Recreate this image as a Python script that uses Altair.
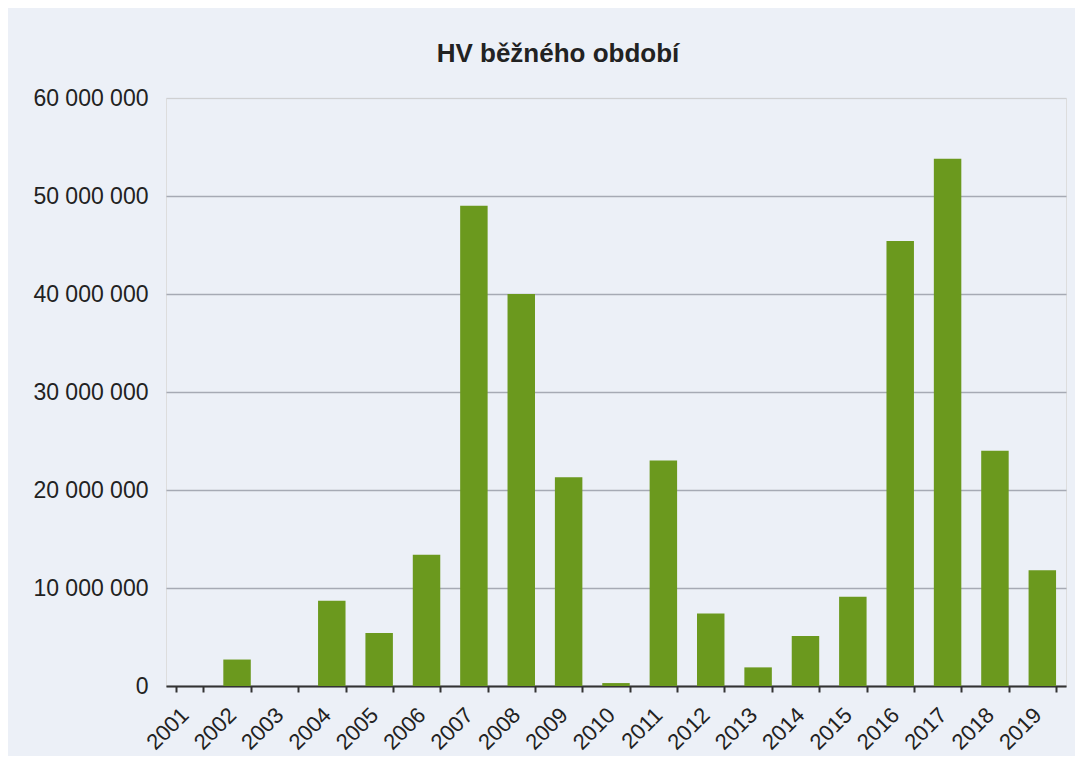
import altair as alt
import pandas as pd

years = [str(y) for y in range(2001, 2020)]
values = [
    0, 2_700_000, 0, 8_700_000, 5_400_000, 13_400_000, 49_000_000, 40_000_000,
    21_300_000, 300_000, 23_000_000, 7_400_000, 1_900_000, 5_100_000, 9_100_000,
    45_400_000, 53_800_000, 24_000_000, 11_800_000,
]
y_ticks = [0, 10_000_000, 20_000_000, 30_000_000, 40_000_000, 50_000_000, 60_000_000]
title_text = "HV běžného období"

df = pd.DataFrame({"rok": years, "hodnota": values})

FONT = "Liberation Sans"

chart = (
    alt.Chart(df)
    .mark_bar(color="#6b991e")
    .encode(
        x=alt.X(
            "rok:N",
            sort=years,
            title=None,
            scale=alt.Scale(paddingInner=0.42, paddingOuter=0.21),
            axis=alt.Axis(
                labelAngle=-45,
                labelAlign="right",
                labelBaseline="alphabetic",
                labelFontSize=22,
                labelFont=FONT,
                labelColor="#222222",
                labelPadding=24,
                domainColor="#333333",
                domainWidth=2,
                tickColor="#333333",
                tickWidth=2,
                tickSize=6,
                tickBand="extent",
                grid=False,
            ),
        ),
        y=alt.Y(
            "hodnota:Q",
            title=None,
            scale=alt.Scale(domain=[0, 60_000_000], nice=False),
            axis=alt.Axis(
                values=y_ticks,
                format=",d",
                labelFontSize=23,
                labelFont=FONT,
                labelColor="#222222",
                labelPadding=18,
                domain=False,
                ticks=False,
                gridColor="#a6aab4",
                gridWidth=1.5,
                gridOpacity={
                    "condition": {"test": "datum.value >= 60000000", "value": 0.25},
                    "value": 1,
                },
                minExtent=150,
                maxExtent=150,
            ),
        ),
    )
    .properties(
        width=900,
        height=588,
        title=alt.Title(
            title_text,
            fontSize=26,
            font=FONT,
            fontWeight="bold",
            color="#222222",
            anchor="middle",
            frame="group",
            dx=-58,
            offset=20,
        ),
        padding={"left": 8, "right": 9, "top": 33, "bottom": 2},
        background="#ecf0f7",
    )
    .configure_view(strokeOpacity=0, fill="#f5f7fb")
    .configure(
        locale=alt.Locale(
            number=alt.NumberLocale(
                decimal=",", thousands=" ", grouping=[3], currency=["", ""]
            )
        )
    )
)

chart.save("out.html", embed_options={"renderer": "svg", "actions": False})
